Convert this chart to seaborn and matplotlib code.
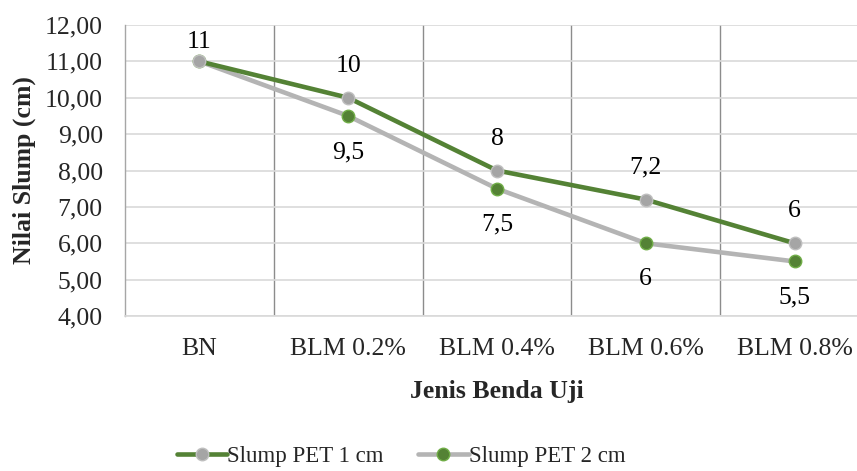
import matplotlib
matplotlib.use("Agg")
import matplotlib.pyplot as plt
import seaborn as sns
import pandas as pd
from matplotlib.ticker import FuncFormatter

categories = ["BN", "BLM 0.2%", "BLM 0.4%", "BLM 0.6%", "BLM 0.8%"]
pet1 = [11, 10, 8, 7.2, 6]
pet2 = [11, 9.5, 7.5, 6, 5.5]
pet1_labels = ["11", "10", "8", "7,2", "6"]
pet2_labels = ["", "9,5", "7,5", "6", "5,5"]
series_names = ["Slump PET 1 cm", "Slump PET 2 cm"]

sns.set_theme(style="white")
plt.rcParams["font.family"] = ["Liberation Serif", "DejaVu Serif"]

GREEN = "#548235"
GREY = "#A5A5A5"
FS = 18.5

fig = plt.figure(figsize=(8.57, 4.71), dpi=100)
ax = fig.add_axes([125/857, 155/471, (869-125)/857, 291/471])

df1 = pd.DataFrame({"cat": categories, "val": pet1})
df2 = pd.DataFrame({"cat": categories, "val": pet2})

sns.lineplot(data=df2, x="cat", y="val", ax=ax, sort=False, color="#B4B4B4",
             linewidth=3.3, marker="o", markersize=9, markerfacecolor=GREEN,
             markeredgecolor="#70AD47", markeredgewidth=1, label=series_names[1], zorder=3)
sns.lineplot(data=df1, x="cat", y="val", ax=ax, sort=False, color=GREEN,
             linewidth=3.3, marker="o", markersize=9, markerfacecolor=GREY,
             markeredgecolor="#BFBFBF", markeredgewidth=1, label=series_names[0], zorder=4)

# data labels
for i, (v, t) in enumerate(zip(pet1, pet1_labels)):
    off = 14 if i == 0 else 23
    ax.annotate(t, (i, v), xytext=(0, off), textcoords="offset points",
                ha="center", va="center", fontsize=FS, color="black")
for i, (v, t) in enumerate(zip(pet2, pet2_labels)):
    if t:
        ax.annotate(t, (i, v), xytext=(0, -26), textcoords="offset points",
                    ha="center", va="center", fontsize=FS, color="black")

ax.set_xlim(-0.5, 4.5)
ax.set_ylim(4, 12)
ax.set_yticks(range(4, 13))
ax.yaxis.set_major_formatter(FuncFormatter(lambda v, p: f"{v:.2f}".replace(".", ",")))
ax.set_xticks(range(len(categories)))
ax.set_xticklabels(categories)
ax.set_xticks([0.5, 1.5, 2.5, 3.5], minor=True)

ax.grid(True, axis="y", which="major", color="#D9D9D9", linewidth=1.2)
ax.grid(True, axis="x", which="minor", color="#8C8C8C", linewidth=1.0)
ax.grid(False, axis="x", which="major")
ax.set_axisbelow(True)

for s in ["top", "right"]:
    ax.spines[s].set_visible(False)
ax.spines["left"].set_color("#A6A6A6")
ax.spines["bottom"].set_color("#D9D9D9")
ax.spines["left"].set_linewidth(1.0)
ax.spines["bottom"].set_linewidth(1.2)

ax.tick_params(axis="y", length=0, pad=16, labelsize=FS)
ax.tick_params(axis="x", which="both", length=0, pad=16, labelsize=FS)

ax.set_xlabel("Jenis Benda Uji", fontsize=FS, fontweight="bold", labelpad=14)
ax.set_ylabel("Nilai Slump (cm)", fontsize=FS, fontweight="bold", labelpad=6)

ax.get_legend().remove()
h, l = ax.get_legend_handles_labels()
order = [l.index(series_names[0]), l.index(series_names[1])]
fig.legend([h[i] for i in order], [l[i] for i in order], loc="center",
           bbox_to_anchor=(401/857, 1 - 456/471), ncol=2, frameon=False,
           fontsize=16.5, handlelength=2.2, handletextpad=0.0, columnspacing=1.5)

fig.savefig("out.png", dpi=100)
